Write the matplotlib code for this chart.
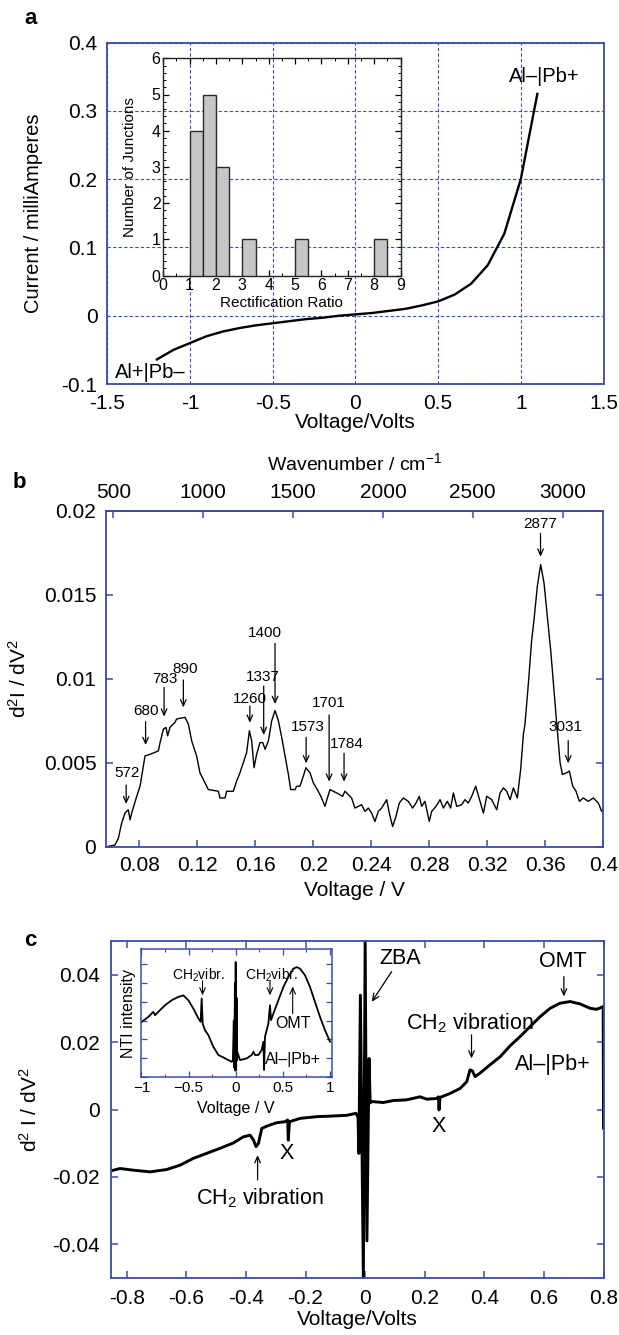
import numpy as np
import matplotlib
matplotlib.use("Agg")
import matplotlib.pyplot as plt
from matplotlib.ticker import MultipleLocator, FuncFormatter, FixedLocator

plt.rcParams["font.family"] = ["Liberation Sans", "DejaVu Sans"]
plt.rcParams["mathtext.fontset"] = "custom"
plt.rcParams["mathtext.rm"] = "Liberation Sans"
plt.rcParams["mathtext.it"] = "Liberation Sans:italic"
plt.rcParams["mathtext.bf"] = "Liberation Sans:bold"
plt.rcParams["mathtext.default"] = "regular"

# ---------------- (a) current-voltage curve ----------------
iv_volts = [-1.2, -1.1, -1.0, -0.9, -0.8, -0.7, -0.6, -0.5, -0.4, -0.3, -0.2, -0.1,
            0.0, 0.1, 0.2, 0.3, 0.4, 0.5, 0.6, 0.7, 0.8, 0.9, 1.0, 1.1]
iv_current = [-0.064, -0.050, -0.040, -0.030, -0.023, -0.018, -0.014, -0.011, -0.008,
              -0.005, -0.003, 0.000, 0.002, 0.004, 0.007, 0.010, 0.015, 0.021, 0.031,
              0.047, 0.074, 0.120, 0.200, 0.325]

# rectification-ratio histogram (bin left edges, bin width 0.5)
rr_bins = [1.0, 1.5, 2.0, 3.0, 5.0, 8.0]
rr_counts = [4, 5, 3, 1, 1, 1]

# ---------------- (b) IETS spectrum ----------------
iets_volts = [
    0.0575, 0.0632, 0.0655, 0.0678, 0.0701, 0.0724, 0.0736, 0.0747, 0.0782, 0.0805,
    0.0839, 0.0874, 0.0931, 0.0943, 0.0966, 0.0984, 0.0995, 0.1011, 0.1046, 0.1057,
    0.1115, 0.1138, 0.1161, 0.1195, 0.1218, 0.1253, 0.1276, 0.1345, 0.1356, 0.1391,
    0.1402, 0.1448, 0.1471, 0.1494, 0.1517, 0.1540, 0.1559, 0.1575, 0.1591, 0.1609,
    0.1632, 0.1651, 0.1667, 0.1690, 0.1713, 0.1736, 0.1759, 0.1782, 0.1805, 0.1828,
    0.1844, 0.1874, 0.1885, 0.1908, 0.1931, 0.1949, 0.1977, 0.2000, 0.2034, 0.2057,
    0.2080, 0.2097, 0.2115, 0.2161, 0.2202, 0.2218, 0.2264, 0.2287, 0.2310, 0.2333,
    0.2356, 0.2379, 0.2402, 0.2425, 0.2448, 0.2471, 0.2506, 0.2524, 0.2547, 0.2570,
    0.2593, 0.2621, 0.2655, 0.2685, 0.2708, 0.2731, 0.2747, 0.2770, 0.2800, 0.2816,
    0.2846, 0.2874, 0.2897, 0.2924, 0.2947, 0.2966, 0.2989, 0.3023, 0.3046, 0.3069,
    0.3092, 0.3120, 0.3143, 0.3173, 0.3196, 0.3230, 0.3265, 0.3288, 0.3311, 0.3334,
    0.3357, 0.3380, 0.3407, 0.3430, 0.3449, 0.3460, 0.3483, 0.3506, 0.3522, 0.3545,
    0.3568, 0.3591, 0.3614, 0.3637, 0.3656, 0.3679, 0.3702, 0.3718, 0.3748, 0.3766,
    0.3789, 0.3812, 0.3835, 0.3862, 0.3897, 0.3931, 0.3966, 0.3989, 0.4000]
iets_signal = [
    0.0000, 0.0001, 0.0005, 0.0014, 0.0020, 0.0022, 0.0016, 0.0020, 0.0030, 0.0036,
    0.0054, 0.0055, 0.0057, 0.0062, 0.0070, 0.0071, 0.0066, 0.0071, 0.0074, 0.0076,
    0.0077, 0.0073, 0.0063, 0.0054, 0.0044, 0.0038, 0.0034, 0.0033, 0.0029, 0.0029,
    0.0033, 0.0033, 0.0039, 0.0044, 0.0050, 0.0056, 0.0069, 0.0063, 0.0047, 0.0055,
    0.0062, 0.0062, 0.0058, 0.0063, 0.0075, 0.0081, 0.0075, 0.0065, 0.0054, 0.0043,
    0.0034, 0.0034, 0.0036, 0.0036, 0.0042, 0.0047, 0.0044, 0.0038, 0.0033, 0.0029,
    0.0024, 0.0029, 0.0034, 0.0032, 0.0030, 0.0033, 0.0029, 0.0023, 0.0024, 0.0025,
    0.0021, 0.0023, 0.0020, 0.0015, 0.0021, 0.0023, 0.0028, 0.0020, 0.0012, 0.0018,
    0.0026, 0.0029, 0.0027, 0.0023, 0.0026, 0.0030, 0.0024, 0.0027, 0.0015, 0.0021,
    0.0024, 0.0028, 0.0023, 0.0027, 0.0023, 0.0032, 0.0024, 0.0025, 0.0028, 0.0026,
    0.0030, 0.0036, 0.0029, 0.0020, 0.0030, 0.0028, 0.0022, 0.0032, 0.0035, 0.0033,
    0.0028, 0.0035, 0.0029, 0.0046, 0.0067, 0.0073, 0.0097, 0.0123, 0.0135, 0.0155,
    0.0168, 0.0157, 0.0137, 0.0117, 0.0097, 0.0073, 0.0050, 0.0043, 0.0044, 0.0045,
    0.0036, 0.0033, 0.0027, 0.0029, 0.0027, 0.0029, 0.0026, 0.0021, 0.0022]

# assigned vibrational modes (cm^-1)
peak_wavenumbers = [572, 680, 783, 890, 1260, 1337, 1400, 1573, 1701, 1784, 2877, 3031]
wavenumber_ticks = [500, 1000, 1500, 2000, 2500, 3000]

# ---------------- (c) wide-range d2I/dV2 ----------------
wide_volts = [
    -0.853, -0.823, -0.778, -0.722, -0.666, -0.621, -0.577, -0.532, -0.487, -0.442,
    -0.409, -0.386, -0.375, -0.366, -0.358, -0.347, -0.330, -0.297, -0.269, -0.260,
    -0.258, -0.254, -0.218, -0.163, -0.107, -0.062, -0.031, -0.024, -0.021, -0.016,
    -0.006, 0.000, 0.006, 0.013, 0.017, 0.022, 0.061, 0.095, 0.139, 0.184,
    0.207, 0.240, 0.246, 0.248, 0.251, 0.285, 0.319, 0.341, 0.352, 0.360,
    0.369, 0.385, 0.419, 0.453, 0.486, 0.520, 0.553, 0.587, 0.621, 0.654,
    0.688, 0.721, 0.755, 0.777, 0.799, 0.800]
wide_signal = [
    -0.0182, -0.0175, -0.0180, -0.0185, -0.0178, -0.0165, -0.0145, -0.0130, -0.0115, -0.0099,
    -0.0081, -0.0076, -0.0090, -0.0110, -0.0100, -0.0056, -0.0049, -0.0039, -0.0036, -0.0031,
    -0.0091, -0.0036, -0.0026, -0.0021, -0.0019, -0.0017, -0.0011, -0.0022, -0.0130, 0.0340,
    -0.0500, 0.0499, -0.0390, 0.0152, 0.0020, 0.0024, 0.0021, 0.0027, 0.0029, 0.0038,
    0.0031, 0.0033, 0.0038, -0.0001, 0.0036, 0.0048, 0.0063, 0.0083, 0.0118, 0.0115,
    0.0098, 0.0108, 0.0133, 0.0157, 0.0189, 0.0217, 0.0246, 0.0276, 0.0301, 0.0316,
    0.0321, 0.0314, 0.0301, 0.0298, 0.0306, -0.0055]

# normalised tunnelling intensity (arbitrary units)
nti_volts = [
    -0.998, -0.927, -0.874, -0.856, -0.821, -0.750, -0.679, -0.609, -0.556, -0.502,
    -0.449, -0.396, -0.372, -0.361, -0.350, -0.326, -0.290, -0.237, -0.184, -0.131,
    -0.078, -0.042, -0.030, -0.020, -0.015, -0.008, -0.003, 0.000, 0.005, 0.010,
    0.015, 0.020, 0.046, 0.117, 0.170, 0.188, 0.205, 0.241, 0.276, 0.294,
    0.301, 0.311, 0.347, 0.364, 0.375, 0.400, 0.453, 0.506, 0.559, 0.612,
    0.648, 0.683, 0.736, 0.789, 0.842, 0.895, 0.948, 1.001]
nti_signal = [
    2.93, 3.19, 3.46, 3.28, 3.46, 3.81, 4.07, 4.25, 4.33, 4.07,
    3.63, 3.11, 2.93, 4.16, 2.84, 2.49, 2.23, 1.61, 1.18, 1.05,
    0.91, 0.82, 0.90, 3.00, 0.50, 5.00, 0.35, 6.09, 0.40, 4.20,
    0.90, 1.30, 0.91, 1.00, 1.18, 1.35, 1.18, 1.18, 1.44, 1.88,
    0.39, 2.14, 2.84, 3.81, 3.02, 3.37, 4.07, 4.77, 5.30, 5.74,
    5.82, 5.74, 5.39, 4.77, 3.98, 3.19, 2.49, 1.88]

EV_PER_WAVENUMBER = 1.23984e-4
FRAME = "#3c4aae"
GRID = "#3a4fd0"
W, H = 619.0, 1335.0
TICK_FS = 15
LABEL_FS = 15
NOTE_FS = 15.5


def box(left, top, right, bottom):
    """Pixel box (figure coordinates from top-left) -> add_axes rectangle."""
    return [left / W, 1 - bottom / H, (right - left) / W, (bottom - top) / H]


def plain(v, pos=None):
    if abs(v) < 1e-12:
        v = 0.0
    return "%g" % round(v, 6)


def unicode_minus(v, pos=None):
    return plain(v).replace("-", "\u2212")


def blue_frame(ax, lw=1.3):
    for s in ax.spines.values():
        s.set_color(FRAME)
        s.set_linewidth(lw)


def down_arrow(ax, x, y_tail, y_tip, lw=0.9, style="->,head_length=0.45,head_width=0.2"):
    ax.annotate("", xy=(x, y_tip), xytext=(x, y_tail),
                arrowprops=dict(arrowstyle=style, color="k", lw=lw,
                                shrinkA=0, shrinkB=0))


fig = plt.figure(figsize=(W / 100, H / 100), dpi=100)

# ======================= panel (a) =======================
ax_a = fig.add_axes(box(107.3, 42.7, 603.5, 384.0))
ax_a.plot(iv_volts, iv_current, color="k", lw=1.7, solid_joinstyle="round")
ax_a.set_xlim(-1.5, 1.5)
ax_a.set_ylim(-0.1, 0.4)
ax_a.xaxis.set_major_locator(MultipleLocator(0.5))
ax_a.yaxis.set_major_locator(MultipleLocator(0.1))
ax_a.xaxis.set_major_formatter(FuncFormatter(plain))
ax_a.yaxis.set_major_formatter(FuncFormatter(plain))
ax_a.grid(True, color=GRID, lw=0.8, ls=(0, (3.0, 2.0)))
ax_a.tick_params(length=0, labelsize=TICK_FS, pad=7)
blue_frame(ax_a)
ax_a.set_xlabel("Voltage/Volts", fontsize=LABEL_FS)
ax_a.xaxis.set_label_coords(0.5, -0.114)
ax_a.xaxis.label.set_va("center")
ax_a.set_ylabel("Current / milliAmperes", fontsize=14.5)
ax_a.yaxis.set_label_coords(-0.149, 0.5)
ax_a.yaxis.label.set_va("center")
ax_a.text(1.14, 0.351, "Al\u2013|Pb+", fontsize=14.5, ha="center", va="center")
ax_a.text(-1.242, -0.0827, "Al+|Pb\u2013", fontsize=14.5, ha="center", va="center")
fig.text(30.5 / W, 1 - 19 / H, "a", fontsize=16, fontweight="bold",
         ha="center", va="center")

# inset histogram
ax_h = fig.add_axes(box(163.3, 58.3, 400.5, 275.5))
ax_h.set_facecolor("none")
ax_h.bar(rr_bins, rr_counts, width=0.5, align="edge", color="#c6c6c6",
         edgecolor="#2a2a2a", lw=1.0, zorder=3)
ax_h.set_xlim(0, 9)
ax_h.set_ylim(0, 6)
ax_h.xaxis.set_major_locator(MultipleLocator(1))
ax_h.xaxis.set_minor_locator(MultipleLocator(0.5))
ax_h.yaxis.set_major_locator(MultipleLocator(1))
ax_h.yaxis.set_minor_locator(MultipleLocator(0.2))
ax_h.tick_params(which="both", direction="in", top=True, right=True,
                 labelsize=11.5, pad=2)
ax_h.tick_params(which="major", length=4, width=0.9)
ax_h.tick_params(which="minor", length=2, width=0.7)
for s in ax_h.spines.values():
    s.set_linewidth(1.0)
    s.set_color("#222222")
ax_h.set_xlabel("Rectification Ratio", fontsize=11)
ax_h.xaxis.set_label_coords(0.5, -0.125)
ax_h.xaxis.label.set_va("center")
ax_h.set_ylabel("Number of Junctions", fontsize=11)
ax_h.yaxis.set_label_coords(-0.14, 0.5)
ax_h.yaxis.label.set_va("center")

# ======================= panel (b) =======================
ax_b = fig.add_axes(box(106.0, 510.7, 603.3, 846.7))
ax_b.plot(iets_volts, iets_signal, color="k", lw=1.0)
ax_b.set_xlim(0.0570, 0.4)
ax_b.set_ylim(0, 0.02)
ax_b.xaxis.set_major_locator(FixedLocator([0.08, 0.12, 0.16, 0.20, 0.24, 0.28, 0.32, 0.36, 0.40]))
ax_b.yaxis.set_major_locator(MultipleLocator(0.005))
ax_b.xaxis.set_major_formatter(FuncFormatter(plain))
ax_b.yaxis.set_major_formatter(FuncFormatter(plain))
ax_b.tick_params(direction="in", length=5, width=1.1, color=FRAME, right=True,
                 top=False, labelsize=TICK_FS, pad=7)
blue_frame(ax_b)
ax_b.set_xlabel("Voltage / V", fontsize=LABEL_FS)
ax_b.xaxis.set_label_coords(0.5, -0.129)
ax_b.xaxis.label.set_va("center")
ax_b.set_ylabel("d$^2$I / dV$^2$", fontsize=LABEL_FS)
ax_b.yaxis.set_label_coords(-0.175, 0.5)
ax_b.yaxis.label.set_va("center")

sec = ax_b.secondary_xaxis("top", functions=(lambda v: v / EV_PER_WAVENUMBER,
                                             lambda k: k * EV_PER_WAVENUMBER))
sec.xaxis.set_major_locator(FixedLocator(wavenumber_ticks))
sec.xaxis.set_minor_locator(FixedLocator([]))
sec.tick_params(direction="in", length=5, width=1.1, color=FRAME,
                labelsize=TICK_FS, pad=6)
sec.spines["top"].set_color(FRAME)
sec.spines["top"].set_linewidth(1.3)
ax_b.text(0.5, 1.142, "Wavenumber / cm$^{\u22121}$", transform=ax_b.transAxes,
          fontsize=14, ha="center", va="center")
fig.text(19.5 / W, 1 - 482 / H, "b", fontsize=16, fontweight="bold",
         ha="center", va="center")

# peak labels: (text dx in V, text y, arrow tail y, arrow tip y)
peak_layout = {
    572: (0.0004, 0.00437, 0.00367, 0.00254),
    680: (0.0003, 0.00808, 0.00744, 0.00605),
    783: (0.0006, 0.00996, 0.00948, 0.00774),
    890: (0.0010, 0.01060, 0.00992, 0.00829),
    1260: (0.0001, 0.00879, 0.00837, 0.00738),
    1337: (-0.0007, 0.01008, 0.00956, 0.00665),
    1400: (-0.0069, 0.01274, 0.01210, 0.00849),
    1573: (0.0009, 0.00714, 0.00651, 0.00496),
    1701: (0.0000, 0.00857, 0.00784, 0.00387),
    1784: (0.0018, 0.00611, 0.00556, 0.00387),
    2877: (-0.0004, 0.01920, 0.01865, 0.01726),
    3031: (-0.0022, 0.00714, 0.00631, 0.00496),
}
for wn in peak_wavenumbers:
    xv = wn * EV_PER_WAVENUMBER
    dx, ty, tail, tip = peak_layout[wn]
    down_arrow(ax_b, xv, tail, tip)
    ax_b.text(xv + dx, ty, str(wn), fontsize=11, ha="center", va="center")

# ======================= panel (c) =======================
ax_c = fig.add_axes(box(111.0, 941.3, 603.5, 1277.9))
ax_c.plot(wide_volts, wide_signal, color="k", lw=2.1, solid_joinstyle="round")
ax_c.set_xlim(-0.853, 0.8)
ax_c.set_ylim(-0.05, 0.05)
ax_c.xaxis.set_major_locator(MultipleLocator(0.2))
ax_c.yaxis.set_major_locator(MultipleLocator(0.02))
ax_c.xaxis.set_major_formatter(FuncFormatter(plain))
ax_c.yaxis.set_major_formatter(FuncFormatter(plain))
ax_c.tick_params(direction="in", length=5, width=1.1, color=FRAME, right=True,
                 top=True, labelsize=TICK_FS, pad=8)
blue_frame(ax_c)
ax_c.set_xlabel("Voltage/Volts", fontsize=LABEL_FS)
ax_c.xaxis.set_label_coords(0.5, -0.125)
ax_c.xaxis.label.set_va("center")
ax_c.set_ylabel("d$^2$ I / dV$^2$", fontsize=LABEL_FS)
ax_c.yaxis.set_label_coords(-0.164, 0.5)
ax_c.yaxis.label.set_va("center")
fig.text(30 / W, 1 - 940 / H, "c", fontsize=16, fontweight="bold",
         ha="center", va="center")

ax_c.text(0.117, 0.0450, "ZBA", fontsize=NOTE_FS, ha="center", va="center")
ax_c.annotate("", xy=(0.022, 0.032), xytext=(0.089, 0.041),
              arrowprops=dict(arrowstyle="->,head_length=0.5,head_width=0.22",
                              color="k", lw=0.9, shrinkA=0, shrinkB=0))
ax_c.text(0.663, 0.0440, "OMT", fontsize=NOTE_FS, ha="center", va="center")
down_arrow(ax_c, 0.667, 0.0395, 0.0336)
ax_c.text(0.352, 0.0256, "CH$_2$ vibration", fontsize=NOTE_FS, ha="center", va="center")
down_arrow(ax_c, 0.357, 0.0222, 0.0152)
ax_c.text(0.630, 0.0133, "Al\u2013|Pb+", fontsize=NOTE_FS, ha="center", va="center")
ax_c.text(0.247, -0.0050, "X", fontsize=NOTE_FS, ha="center", va="center")
ax_c.text(-0.263, -0.0130, "X", fontsize=NOTE_FS, ha="center", va="center")
ax_c.text(-0.352, -0.0264, "CH$_2$ vibration", fontsize=NOTE_FS, ha="center", va="center")
down_arrow(ax_c, -0.361, -0.0209, -0.0135)

# inset: normalised tunnelling intensity
ax_n = fig.add_axes(box(140.7, 949.0, 331.7, 1077.3))
ax_n.set_facecolor("white")
ax_n.plot(nti_volts, nti_signal, color="k", lw=1.3)
ax_n.set_xlim(-1.008, 1.019)
ax_n.set_ylim(0, 6.78)
ax_n.xaxis.set_major_locator(MultipleLocator(0.5))
ax_n.xaxis.set_minor_locator(MultipleLocator(0.25))
ax_n.yaxis.set_major_locator(MultipleLocator(1))
ax_n.xaxis.set_major_formatter(FuncFormatter(unicode_minus))
ax_n.yaxis.set_major_formatter(FuncFormatter(lambda v, p: ""))
ax_n.tick_params(which="both", direction="in", color=FRAME, top=True, right=True,
                 labelsize=11, pad=3)
ax_n.tick_params(which="major", length=4, width=0.9)
ax_n.tick_params(which="minor", length=2.5, width=0.8)
blue_frame(ax_n, lw=1.1)
ax_n.set_xlabel("Voltage / V", fontsize=11.5)
ax_n.xaxis.set_label_coords(0.5, -0.246)
ax_n.xaxis.label.set_va("center")
ax_n.set_ylabel("NTI intensity", fontsize=11.5)
ax_n.yaxis.set_label_coords(-0.065, 0.5)
ax_n.yaxis.label.set_va("center")

ax_n.text(-0.396, 5.39, "CH$_2$vibr.", fontsize=10, ha="center", va="center")
down_arrow(ax_n, -0.352, 5.10, 4.33, lw=0.8)
ax_n.text(0.382, 5.39, "CH$_2$vibr.", fontsize=10, ha="center", va="center")
down_arrow(ax_n, 0.364, 5.10, 4.33, lw=0.8)
ax_n.text(0.612, 2.84, "OMT", fontsize=11.5, ha="center", va="center")
down_arrow(ax_n, 0.605, 3.37, 4.80, lw=0.8)
ax_n.text(0.612, 0.96, "Al\u2013|Pb+", fontsize=11.5, ha="center", va="center")

fig.savefig("out.png", dpi=100)
